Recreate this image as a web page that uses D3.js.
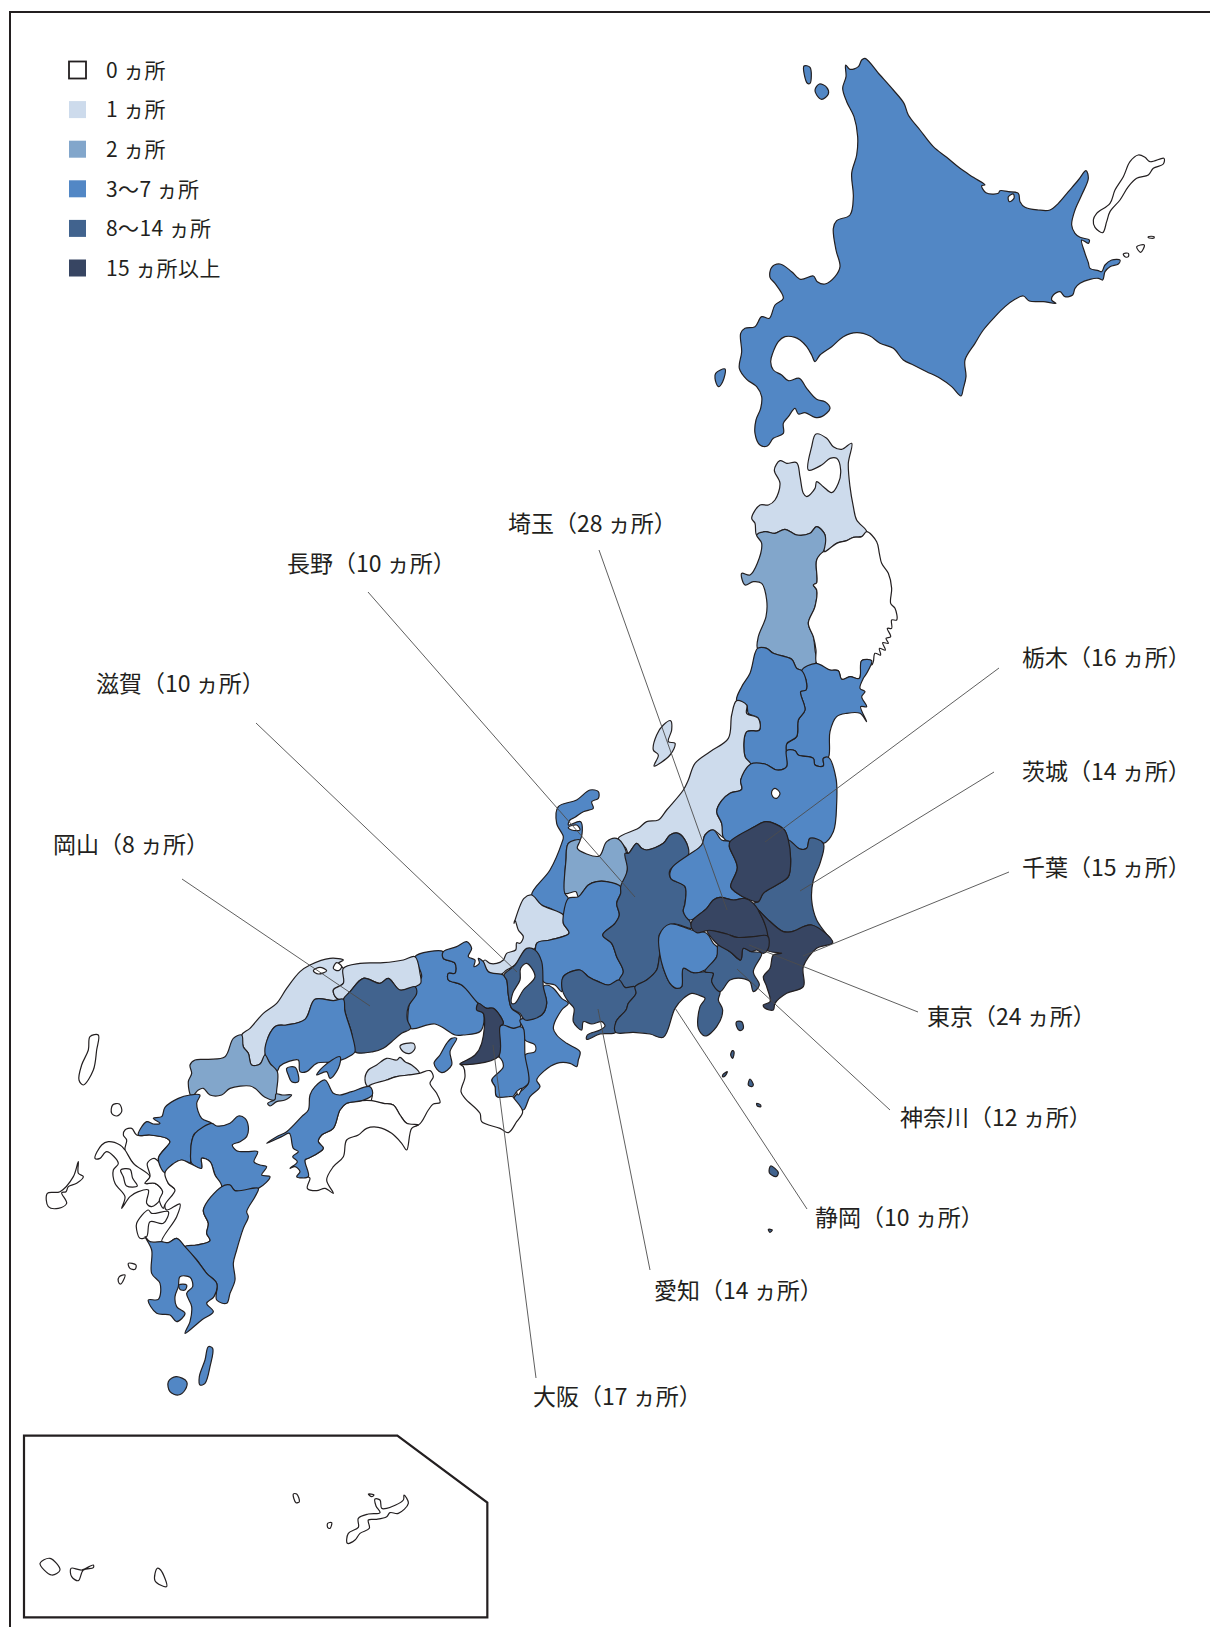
<!DOCTYPE html>
<html>
<head>
<meta charset="utf-8">
<script src="https://cdn.jsdelivr.net/npm/d3@7"></script>
<style>
  html, body { margin: 0; padding: 0; background: #fff; }
  svg { display: block; }
  text { font-family: "Noto Sans CJK JP", "Noto Sans", sans-serif; fill: #231f20; }
</style>
</head>
<body>
<div id="map"></div>
<script>
// legend
const catLabels = ["0 ヵ所", "1 ヵ所", "2 ヵ所", "3〜7 ヵ所", "8〜14 ヵ所", "15 ヵ所以上"];
const catColors = ["#ffffff", "#cddbec", "#82a6cb", "#5287c5", "#41638e", "#374562"];

// callouts
const calloutNames = ["埼玉", "長野", "滋賀", "岡山", "栃木", "茨城", "千葉", "東京", "神奈川", "静岡", "愛知", "大阪"];
const calloutCounts = [28, 10, 10, 8, 16, 14, 15, 24, 12, 10, 14, 17];
const calloutAnchors = [[508,526],[287,566],[96,686],[53,847],[1022,660],[1022,774],[1022,870],[927,1019],[900,1120],[815,1220],[654,1293],[533,1399]];
const calloutLines = [
  [[599,550],[727,910]], [[368,592],[635,897]], [[256,723],[517,972]], [[182,879],[370,1006]],
  [[999,668],[765,842]], [[994,772],[800,891]], [[1009,872],[803,956]], [[918,1012],[749,945]],
  [[890,1110],[737,969]], [[807,1209],[675,1008]], [[650,1270],[598,1009]], [[536,1378],[493,1045]]
];

// outlines are in units of a 3x grid, each group with its own origin (see crops)
const crops = { A: [680, 40], B: [640, 420], C: [500, 780], D: [360, 920], E: [170, 940], F: [30, 1020], G: [0, 1420] };

// hokkaido
const hokkaido = [[555,55],[600,105],[640,150],[672,190],[685,225],[720,270],[760,320],[800,352],[840,385],[880,412],[915,435],[905,437],[918,458],[955,460],[960,452],[985,455],[1015,460],[1020,485],[1035,502],[1075,510],[1110,510],[1135,490],[1165,455],[1195,420],[1218,392],[1225,415],[1205,465],[1185,510],[1175,555],[1185,580],[1200,592],[1228,600],[1225,610],[1205,600],[1215,640],[1225,668],[1230,685],[1255,692],[1265,695],[1275,675],[1295,660],[1320,660],[1315,672],[1290,680],[1275,695],[1268,720],[1255,715],[1230,718],[1200,730],[1185,745],[1178,765],[1155,770],[1140,755],[1120,765],[1115,780],[1128,790],[1090,785],[1048,783],[1030,768],[1005,778],[975,800],[945,830],[910,870],[885,910],[855,960],[858,1010],[850,1045],[843,1068],[815,1040],[780,1015],[740,995],[700,975],[670,960],[640,925],[600,910],[570,888],[530,878],[490,890],[455,920],[420,945],[405,965],[395,945],[380,920],[360,900],[345,892],[315,890],[295,905],[278,940],[272,965],[280,990],[305,1005],[325,1022],[358,1015],[380,1045],[410,1078],[435,1085],[450,1105],[425,1130],[405,1132],[375,1118],[355,1122],[345,1105],[325,1130],[310,1150],[310,1180],[280,1195],[262,1218],[240,1215],[225,1180],[228,1140],[242,1105],[245,1070],[230,1040],[200,1018],[178,985],[185,935],[182,880],[195,865],[225,860],[245,830],[268,835],[285,795],[310,775],[285,730],[270,712],[275,682],[300,672],[335,695],[362,718],[400,708],[412,725],[435,732],[465,710],[480,680],[468,630],[460,565],[470,542],[510,525],[520,470],[515,400],[530,345],[533,290],[522,230],[500,185],[488,145],[498,110],[497,75],[510,88],[535,80],[545,60]];
const rishiri = [[405,150],[418,132],[440,142],[445,162],[425,178],[410,165]];
const rebun = [[372,78],[390,82],[390,130],[382,130]];
const okushiri = [[107,1000],[135,987],[128,1025],[115,1040],[105,1015]];
const kunashiri = [[1375,345],[1395,352],[1410,365],[1452,355],[1450,372],[1420,385],[1405,405],[1370,415],[1345,440],[1320,480],[1290,515],[1280,545],[1268,578],[1245,562],[1240,540],[1250,520],[1290,490],[1305,450],[1330,410],[1350,365]];
const shikotan = [[1370,620],[1393,615],[1382,637]];
const habomai = [[1330,642],[1345,640],[1345,650],[1335,650]];
const kaigara = [[1405,590],[1422,590],[1422,594],[1405,593]];
const saroma = [[985,470],[1000,462],[1002,475],[988,485]];

// tohoku
const aomori = [[528,42],[560,55],[580,80],[605,88],[635,70],[625,130],[630,200],[640,260],[650,300],[680,335],[665,350],[640,352],[620,362],[590,370],[555,395],[550,365],[555,345],[530,320],[510,340],[470,345],[435,328],[405,340],[375,335],[350,345],[345,310],[335,295],[360,255],[385,255],[405,240],[420,190],[403,150],[420,122],[440,130],[470,128],[480,170],[490,220],[500,230],[525,205],[530,185],[550,200],[575,218],[595,190],[602,150],[590,115],[570,115],[545,135],[505,150],[515,80]];
const akita = [[350,345],[375,335],[405,340],[435,328],[470,345],[510,340],[530,320],[555,345],[550,395],[530,420],[530,488],[520,495],[530,510],[525,560],[505,610],[520,650],[525,690],[528,728],[495,752],[470,745],[455,718],[400,700],[380,685],[353,685],[355,650],[378,590],[380,540],[365,490],[340,485],[315,495],[305,460],[330,465],[352,430],[365,370]];
const iwate = [[680,335],[710,365],[718,400],[725,430],[745,460],[755,505],[752,550],[765,565],[770,600],[755,600],[755,625],[742,625],[752,650],[738,655],[745,670],[728,668],[736,690],[718,685],[722,705],[705,700],[700,725],[695,735],[680,720],[665,722],[658,775],[630,770],[605,778],[595,752],[570,750],[530,730],[528,690],[520,650],[505,610],[525,560],[530,510],[520,495],[530,488],[530,420],[550,395],[555,395],[590,370],[620,362],[640,352],[665,350]];
const miyagi = [[528,730],[570,750],[595,752],[605,778],[630,770],[658,775],[665,722],[695,722],[680,760],[670,775],[660,805],[675,815],[665,830],[680,860],[662,860],[680,905],[660,880],[620,880],[590,890],[570,935],[565,1012],[550,1015],[550,1038],[525,1035],[520,1015],[475,1005],[465,992],[440,992],[440,972],[470,950],[475,900],[495,870],[482,815],[498,810],[498,780],[485,752]];
const yamagata = [[353,685],[380,685],[400,700],[455,718],[470,745],[485,752],[498,780],[498,810],[482,815],[495,870],[475,900],[470,950],[440,972],[440,1040],[410,1050],[375,1032],[332,1032],[315,1010],[320,935],[358,930],[355,895],[325,880],[320,855],[290,842],[305,800],[330,760],[345,700]];
const sado = [[92,902],[95,930],[85,965],[105,970],[90,1005],[42,1038],[55,1005],[40,990],[50,945],[70,915]];

// kanto, chubu
const fukushima = [[752,-48],[795,-48],[830,-30],[860,-40],[860,-88],[885,-88],[895,-75],[940,-65],[945,-45],[970,-42],[970,-65],[985,-68],[1008,-5],[1010,70],[1000,155],[970,190],[930,175],[920,205],[900,207],[865,180],[852,148],[798,125],[760,142],[690,185],[670,172],[665,130],[650,95],[665,62],[690,40],[725,28],[722,0]];
const inawashiro = [[815,35],[825,25],[840,40],[830,55],[818,50]];
const niigata = [[710,-238],[740,-225],[740,-200],[775,-185],[778,-150],[740,-145],[735,-70],[752,-48],[722,0],[725,28],[690,40],[665,62],[650,95],[665,130],[670,172],[640,150],[615,165],[605,195],[565,225],[560,190],[535,160],[510,165],[490,190],[440,210],[425,205],[410,190],[385,220],[378,205],[355,175],[415,145],[440,125],[475,120],[500,90],[550,30],[565,0],[585,-50],[630,-85],[685,-125],[695,-195]];
const ishikawa = [[175,80],[230,60],[270,30],[295,35],[295,55],[275,65],[280,85],[250,95],[225,112],[210,120],[205,135],[242,125],[240,180],[205,190],[198,240],[195,340],[205,355],[190,405],[150,385],[125,375],[95,345],[150,270],[185,190],[190,170],[170,130]];
const nanao = [[205,142],[230,135],[240,150],[215,150]];
const toyama = [[240,180],[232,205],[260,222],[298,228],[320,185],[350,175],[375,205],[382,270],[362,320],[320,305],[290,305],[265,315],[235,350],[228,335],[205,340],[195,340],[198,240],[205,190]];
const fukui = [[45,420],[55,450],[70,470],[60,490],[50,488],[47,510],[20,520],[10,540],[-10,550],[-30,550],[-45,540],[-50,545],[-35,575],[0,585],[20,570],[45,555],[80,515],[105,505],[110,490],[150,480],[207,460],[190,430],[190,405],[125,375],[95,345],[72,355],[42,430]];
const gifu = [[205,355],[235,350],[265,315],[290,305],[320,305],[362,320],[362,340],[350,370],[358,405],[345,430],[308,465],[335,490],[350,530],[370,575],[358,600],[325,615],[295,605],[265,590],[240,570],[190,590],[185,635],[165,615],[130,605],[110,490],[150,480],[207,460],[190,430],[190,405]];
const nagano = [[362,320],[382,270],[375,220],[385,220],[410,190],[425,205],[440,210],[490,190],[510,165],[535,160],[560,190],[565,225],[510,270],[512,295],[555,320],[555,370],[550,395],[570,425],[575,445],[520,432],[495,450],[478,465],[480,505],[470,570],[440,600],[405,620],[375,622],[358,600],[370,575],[350,530],[335,490],[308,465],[345,430],[358,405],[350,370],[362,340]];
const aichi = [[190,590],[240,570],[265,590],[295,605],[325,615],[358,600],[375,622],[405,620],[408,640],[385,670],[378,690],[348,725],[347,757],[300,762],[260,778],[262,765],[300,750],[315,738],[305,725],[275,732],[250,725],[245,750],[220,725],[222,685],[205,665],[187,630]];
const shizuoka = [[405,620],[440,600],[470,570],[480,525],[490,565],[510,610],[530,625],[545,620],[550,565],[580,578],[615,575],[640,580],[635,605],[660,635],[655,660],[668,690],[650,740],[615,768],[595,745],[600,680],[615,655],[595,645],[575,640],[550,655],[525,685],[490,772],[450,762],[400,757],[347,757],[348,725],[378,690],[385,670],[408,640]];
const yamanashi = [[478,465],[510,432],[575,450],[620,460],[640,490],[655,505],[650,530],[615,570],[580,578],[550,565],[545,620],[530,625],[510,610],[490,565],[480,525]];
const gunma = [[515,265],[565,225],[605,195],[615,165],[640,150],[665,180],[690,185],[688,200],[712,262],[692,320],[705,335],[750,360],[735,355],[700,360],[660,352],[640,360],[620,385],[570,420],[550,395],[555,370],[555,320],[512,295]];
const tochigi = [[690,185],[760,142],[798,125],[852,148],[865,180],[872,240],[865,290],[830,315],[790,340],[775,365],[750,360],[705,335],[692,320],[712,262],[688,200]];
const ibaraki = [[865,180],[900,207],[920,205],[930,175],[970,190],[960,250],[940,300],[935,360],[950,420],[998,488],[935,435],[875,455],[850,455],[800,415],[775,390],[760,370],[775,365],[790,340],[830,315],[865,290],[872,240]];
const saitama = [[575,425],[620,385],[640,360],[660,352],[700,360],[735,355],[760,370],[790,420],[803,465],[760,470],[710,472],[680,462],[625,452],[590,458],[575,445]];
const tokyo = [[622,452],[680,462],[710,472],[760,470],[803,468],[805,505],[790,520],[770,510],[755,515],[730,505],[722,540],[690,515],[655,495],[640,480]];
const chiba = [[775,390],[800,415],[850,455],[875,455],[935,435],[998,488],[950,505],[910,560],[910,620],[860,640],[825,670],[820,690],[795,685],[790,675],[810,665],[800,620],[790,590],[810,565],[820,525],[845,520],[800,510],[803,465],[790,420]];
const kanagawa = [[655,495],[690,515],[722,540],[730,505],[755,515],[785,520],[760,575],[778,615],[760,635],[750,605],[725,595],[690,600],[660,635],[635,605],[640,580],[615,575],[650,530]];
const oshima = [[710,725],[725,725],[730,745],[720,752],[710,740]];
const toshima = [[697,812],[702,815],[698,835],[692,825]];
const niijima = [[668,885],[682,875],[675,888],[668,890]];
const miyake = [[750,897],[760,915],[755,920],[745,915]];
const mikura = [[770,970],[782,975],[782,980],[772,978]];
const hachijo = [[812,1158],[835,1178],[828,1190],[808,1178]];
const aogashima = [[805,1348],[817,1350],[810,1357]];

// kinki
const shiga = [[500,85],[525,90],[545,125],[550,200],[560,250],[545,285],[495,300],[480,280],[455,265],[445,225],[440,180],[432,165],[465,135]];
const biwa = [[482,145],[500,130],[525,170],[490,210],[465,250],[455,250],[458,220],[480,180]];
const osaka = [[355,250],[380,265],[400,265],[430,310],[420,320],[415,410],[300,432],[345,405],[365,370],[370,280],[350,270]];
const hyogo = [[165,110],[180,150],[185,170],[165,205],[145,270],[150,325],[225,312],[285,345],[310,345],[362,333],[370,280],[350,265],[355,250],[305,195],[265,180],[265,160],[285,160],[285,130],[250,115],[250,95]];
const kyoto = [[250,95],[290,80],[320,65],[335,85],[325,110],[345,120],[342,140],[358,130],[355,115],[370,125],[385,155],[430,165],[440,180],[445,225],[455,265],[480,285],[480,320],[460,325],[430,320],[420,320],[430,310],[400,265],[380,265],[355,250],[305,195],[265,180],[265,160],[285,160],[285,130],[250,115]];
const awaji = [[290,355],[270,395],[275,435],[245,458],[222,430],[240,405],[260,370],[275,355]];
const nara = [[430,315],[460,325],[480,320],[490,325],[495,405],[505,490],[470,515],[458,530],[410,530],[405,500],[395,480],[418,440],[415,380],[418,320]];
const mie = [[560,195],[580,205],[605,235],[625,250],[605,270],[580,325],[590,345],[620,370],[660,395],[655,420],[650,440],[630,430],[590,430],[550,455],[530,480],[540,500],[510,530],[490,570],[462,535],[505,490],[495,405],[525,395],[525,375],[495,360],[490,325],[480,300],[545,285],[560,250],[550,200]];
const wakayama = [[300,432],[415,410],[430,440],[395,480],[405,500],[410,530],[458,530],[462,535],[488,575],[470,605],[445,638],[420,625],[365,605],[360,580],[315,535],[303,515],[315,470],[310,440]];
const kitayama = [[470,515],[485,505],[475,525]];

// chugoku, shikoku
const shimane = [[215,285],[240,265],[280,220],[320,190],[350,145],[390,95],[420,75],[480,55],[520,60],[505,70],[520,85],[520,130],[490,150],[500,175],[515,178],[490,182],[435,178],[405,238],[350,255],[318,258],[295,290],[285,345],[270,372],[245,375],[235,340],[220,320]];
const shinji = [[430,92],[450,82],[470,92],[445,102]];
const nakaumi = [[490,85],[500,68],[515,80],[505,92]];
const tottori = [[520,85],[570,70],[640,68],[700,60],[735,50],[750,100],[752,130],[735,140],[690,150],[655,115],[630,130],[580,115],[540,155],[520,178],[500,175],[490,150],[520,130]];
const okayama = [[520,178],[540,155],[580,115],[630,130],[655,115],[690,150],[735,140],[740,160],[715,200],[712,240],[722,265],[695,280],[665,305],[640,325],[610,335],[555,335],[545,280],[525,215]];
const hiroshima = [[435,178],[490,182],[520,178],[525,215],[545,280],[555,335],[545,345],[500,365],[440,370],[410,395],[390,395],[385,360],[355,365],[330,378],[320,395],[300,370],[285,340],[295,290],[318,258],[350,255],[405,238]];
const etajima = [[350,385],[375,382],[385,425],[365,425],[355,405]];
const geiyo = [[460,380],[510,350],[505,385],[480,415],[470,395],[440,405]];
const yamaguchi = [[215,285],[220,320],[235,340],[245,375],[270,372],[285,345],[300,370],[322,395],[320,450],[315,480],[285,472],[255,445],[240,438],[180,445],[155,465],[120,465],[100,445],[85,450],[65,470],[55,425],[65,400],[60,375],[75,360],[115,358],[165,350],[190,295]];
const suooshima = [[318,462],[338,465],[365,465],[345,480],[320,485],[300,498],[293,490],[315,478]];
const kagawa = [[595,390],[620,375],[650,355],[680,360],[690,352],[705,365],[725,375],[748,400],[715,405],[680,410],[650,420],[595,440],[585,420]];
const shodoshima = [[690,318],[730,310],[735,325],[720,340],[700,335]];
const ehime = [[465,420],[490,460],[510,465],[545,455],[600,440],[607,465],[575,482],[530,490],[510,510],[490,565],[455,585],[445,605],[460,625],[415,655],[405,660],[415,710],[380,710],[390,695],[375,680],[360,685],[382,665],[368,650],[385,635],[370,625],[358,580],[335,590],[290,610],[320,590],[350,575],[395,530],[415,510],[420,465],[435,440]];
const tokushima = [[595,440],[650,420],[680,410],[715,405],[748,400],[780,392],[790,410],[780,430],[800,460],[810,488],[790,492],[775,510],[745,555],[710,550],[690,525],[670,495],[640,490],[605,482],[607,465]];
const kochi = [[510,510],[530,490],[575,482],[605,482],[640,490],[670,495],[690,525],[710,550],[745,555],[725,565],[710,630],[695,610],[665,580],[625,562],[590,565],[565,585],[530,600],[520,650],[490,680],[470,720],[490,760],[465,745],[440,752],[412,745],[420,715],[415,710],[405,660],[415,655],[460,625],[445,605],[455,585],[490,565]];

// kyushu
const fukuoka = [[395,290],[405,262],[445,235],[480,225],[510,225],[500,250],[515,295],[545,310],[545,330],[495,340],[485,365],[482,420],[480,430],[455,420],[425,435],[405,458],[385,415],[420,365],[410,355],[360,345],[325,345],[350,305],[370,312],[390,310],[370,295]];
const oita = [[545,310],[560,318],[600,310],[625,288],[645,295],[655,320],[650,350],[630,365],[607,375],[620,392],[650,395],[683,395],[672,425],[690,435],[710,440],[695,465],[720,470],[685,505],[615,512],[600,495],[575,500],[555,465],[540,425],[515,415],[515,445],[485,430],[482,395],[485,365],[495,340]];
const kumamoto = [[405,458],[425,435],[455,420],[480,430],[515,445],[515,415],[540,425],[555,465],[575,500],[520,570],[535,610],[530,640],[540,662],[500,675],[465,680],[440,655],[415,668],[395,665],[440,590],[450,552],[410,570],[405,555],[435,510],[415,490]];
const amakusa = [[320,610],[355,570],[365,580],[415,575],[400,610],[360,605],[350,650],[330,655],[320,630]];
const saga = [[320,345],[360,345],[410,355],[420,365],[385,415],[405,458],[360,470],[310,430],[285,390],[290,360],[280,345],[285,330],[305,325]];
const nagasaki = [[195,415],[215,375],[235,365],[270,375],[285,390],[310,430],[360,470],[345,490],[375,490],[398,515],[390,540],[365,560],[350,550],[355,510],[325,515],[300,530],[275,565],[285,530],[255,490],[250,450],[265,430],[230,395],[210,415]];
const omura = [[272,450],[300,448],[308,475],[322,498],[290,498],[280,470]];
const ariake = [[345,490],[360,470],[352,430],[372,415],[390,430],[405,458],[415,490],[440,515],[435,535],[405,555],[400,565],[388,540],[398,515],[375,490]];
const goto = [[145,425],[145,460],[160,470],[140,490],[115,500],[108,515],[95,518],[110,550],[85,565],[55,560],[52,520],[90,515],[130,470]];
const tsushima = [[180,50],[205,45],[200,90],[190,150],[160,195],[147,180],[155,135],[175,90]];
const iki = [[248,255],[268,252],[275,275],[260,288],[245,280]];
const miyazaki = [[575,500],[600,495],[615,512],[685,505],[675,530],[650,575],[655,590],[640,625],[620,690],[610,730],[615,780],[600,820],[590,850],[560,840],[560,790],[530,760],[500,720],[465,680],[500,675],[540,662],[530,640],[535,610],[520,570]];
const kagoshima = [[345,650],[360,665],[395,665],[415,668],[440,655],[465,680],[500,720],[530,760],[560,790],[552,830],[530,850],[550,875],[515,900],[465,940],[480,905],[485,860],[470,820],[488,800],[480,772],[450,770],[445,800],[435,830],[440,860],[465,880],[440,905],[420,885],[380,880],[355,840],[385,838],[390,790],[365,760],[365,690]];
const sakurajima = [[447,795],[470,795],[465,810],[450,808]];
const koshiki1 = [[295,730],[318,735],[315,748],[300,745]];
const koshiki2 = [[268,770],[285,765],[272,792],[265,785]];
const yakushima = [[415,1085],[438,1070],[470,1085],[465,1110],[445,1125],[420,1115]];
const tanegashima = [[535,980],[548,985],[540,1040],[525,1090],[510,1095],[508,1070],[525,1020]];

// okinawa inset
const insetFrame = [[72,47],[1192,47],[1462,248],[1462,592],[72,592]];
const okinawa = [[1125,237],[1140,240],[1145,265],[1160,265],[1210,240],[1212,225],[1225,250],[1195,280],[1170,278],[1160,290],[1130,298],[1105,300],[1108,325],[1080,340],[1065,360],[1042,370],[1045,340],[1075,322],[1075,295],[1105,282],[1140,278],[1128,258]];
const iheya = [[1105,222],[1122,225],[1115,230]];
const kumejima = [[983,310],[995,308],[990,325],[983,322]];
const daito = [[880,222],[890,222],[898,245],[888,248]];
const ishigaki = [[120,430],[150,415],[180,450],[155,465]];
const iriomote = [[213,445],[245,450],[280,435],[280,443],[250,450],[235,482],[215,470]];
const miyako = [[472,445],[482,450],[500,500],[465,482]];

// crop, category, ring. white first, then later ones sit on top
const regions = [
  ["A",3,hokkaido],["A",3,rishiri],["A",3,rebun],["A",3,okushiri],["A",0,kunashiri],["A",0,shikotan],["A",0,habomai],["A",0,kaigara],["A",0,saroma],
  ["B",1,aomori],["B",2,akita],["B",0,iwate],["B",3,miyagi],["B",3,yamagata],["B",1,sado],
  ["C",1,niigata],["C",3,fukushima],["C",0,inawashiro],["C",3,ishikawa],["C",0,nanao],["C",2,toyama],["C",1,fukui],["C",3,gifu],["C",4,nagano],["C",4,aichi],["C",4,shizuoka],["C",3,yamanashi],["C",3,gunma],["C",4,ibaraki],["C",4,kanagawa],["C",5,tochigi],["C",5,saitama],["C",5,chiba],["C",5,tokyo],
  ["C",4,oshima],["C",4,toshima],["C",4,niijima],["C",4,miyake],["C",4,mikura],["C",4,hachijo],["C",4,aogashima],
  ["D",3,hyogo],["D",3,kyoto],["D",3,awaji],["D",3,mie],["D",3,nara],["D",0,wakayama],["D",0,kitayama],["D",5,osaka],["D",4,shiga],["D",0,biwa],
  ["E",1,shimane],["E",0,shinji],["E",0,nakaumi],["E",1,tottori],["E",4,okayama],["E",3,hiroshima],["E",3,etajima],["E",3,geiyo],["E",2,yamaguchi],["E",2,suooshima],["E",1,kagawa],["E",1,shodoshima],["E",0,tokushima],["E",0,kochi],["E",3,ehime],
  ["F",0,saga],["F",0,nagasaki],["F",0,omura],["F",0,ariake],["F",0,goto],["F",0,tsushima],["F",0,iki],["F",3,fukuoka],["F",3,oita],["F",0,kumamoto],["F",0,amakusa],["F",3,miyazaki],["F",3,kagoshima],["F",3,sakurajima],["F",0,koshiki1],["F",0,koshiki2],["F",3,yakushima],["F",3,tanegashima],
  ["G",0,okinawa],["G",0,iheya],["G",0,kumejima],["G",0,daito],["G",0,ishigaki],["G",0,iriomote],["G",0,miyako]
];

const width = 1210, height = 1627;

const svg = d3.select("#map")
  .append("svg")
  .attr("width", width)
  .attr("height", height);

// one scale pair per crop
function scalesFor(key) {
  const o = crops[key];
  return {
    x: d3.scaleLinear().domain([0, 3]).range([o[0], o[0] + 1]),
    y: d3.scaleLinear().domain([0, 3]).range([o[1], o[1] + 1])
  };
}
function pathFor(key, ring, curve) {
  const s = scalesFor(key);
  return d3.line().x(d => s.x(d[0])).y(d => s.y(d[1])).curve(curve)(ring);
}

const color = d3.scaleOrdinal().domain(d3.range(catColors.length)).range(catColors);
const coast = d3.curveCatmullRomClosed.alpha(0.5);

// page frame, top and left only
svg.append("path")
  .attr("d", `M${width},12 H10 V${height}`)
  .attr("fill", "none")
  .attr("stroke", "#231f20")
  .attr("stroke-width", 2);

svg.append("path")
  .attr("d", pathFor("G", insetFrame, d3.curveLinearClosed))
  .attr("fill", "none")
  .attr("stroke", "#231f20")
  .attr("stroke-width", 2.2);

svg.selectAll(".region")
  .data(regions)
  .enter()
  .append("path")
  .attr("class", "region")
  .attr("d", d => pathFor(d[0], d[2], coast))
  .attr("fill", d => color(d[1]))
  .attr("stroke", "#231f20")
  .attr("stroke-width", 1.2)
  .attr("stroke-linejoin", "round");

svg.selectAll(".leader")
  .data(calloutLines)
  .enter()
  .append("line")
  .attr("class", "leader")
  .attr("x1", d => d[0][0])
  .attr("y1", d => d[0][1])
  .attr("x2", d => d[1][0])
  .attr("y2", d => d[1][1])
  .attr("stroke", "#4d4d4d")
  .attr("stroke-width", 0.9);

svg.selectAll(".callout")
  .data(calloutNames)
  .enter()
  .append("text")
  .attr("class", "callout")
  .attr("x", (d, i) => calloutAnchors[i][0])
  .attr("y", (d, i) => calloutAnchors[i][1])
  .attr("dominant-baseline", "middle")
  .attr("font-size", 23)
  .text((d, i) => `${d}（${calloutCounts[i]} ヵ所）`);

// legend
const legendY = d3.scalePoint().domain(d3.range(catLabels.length)).range([70, 268]);

svg.selectAll(".swatch")
  .data(catLabels)
  .enter()
  .append("rect")
  .attr("class", "swatch")
  .attr("x", 69)
  .attr("y", (d, i) => legendY(i) - 8.5)
  .attr("width", 17)
  .attr("height", 17)
  .attr("fill", (d, i) => catColors[i])
  .attr("stroke", (d, i) => i == 0 ? "#231f20" : "none")
  .attr("stroke-width", 1.8);

svg.selectAll(".label")
  .data(catLabels)
  .enter()
  .append("text")
  .attr("class", "label")
  .attr("x", 106)
  .attr("y", (d, i) => legendY(i) + 2)
  .attr("dominant-baseline", "middle")
  .attr("font-size", 21)
  .attr("letter-spacing", 0.4)
  .text(d => d);
</script>
</body>
</html>
